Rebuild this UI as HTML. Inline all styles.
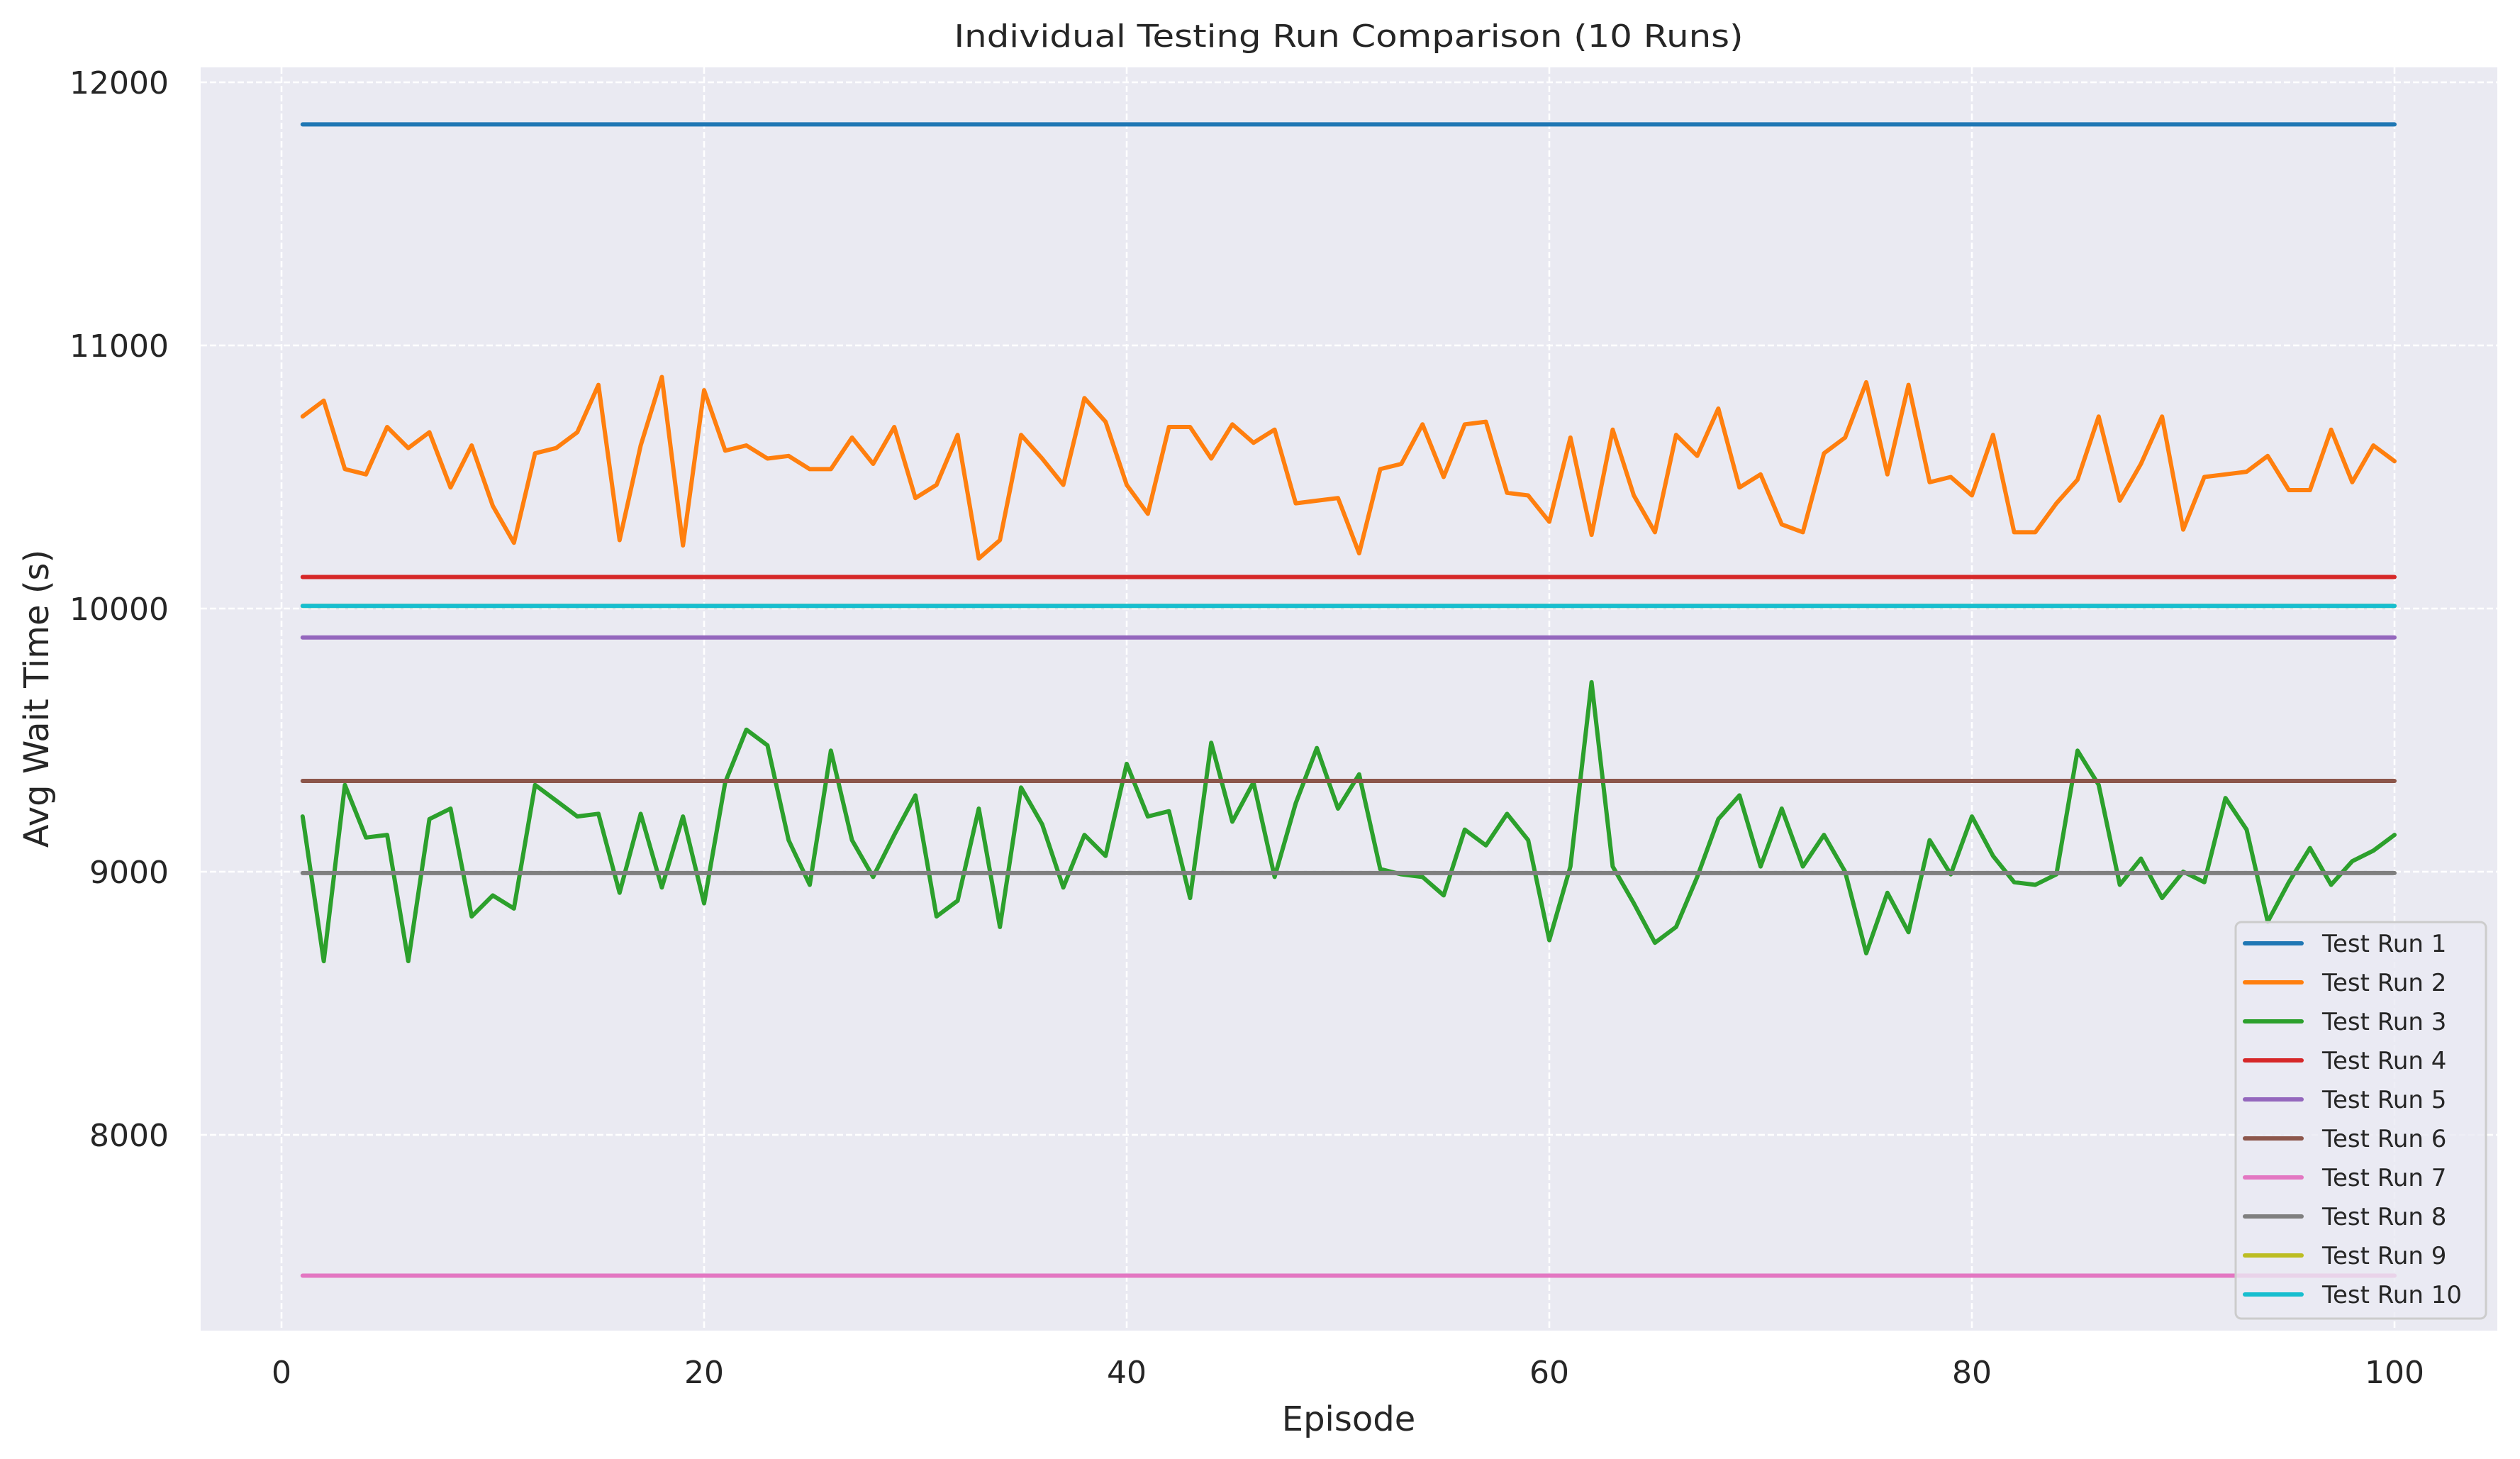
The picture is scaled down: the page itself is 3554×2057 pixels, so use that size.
<!DOCTYPE html>
<html><head><meta charset="utf-8"><style>
html,body{margin:0;padding:0;background:#fff;}
svg{display:block;font-family:"DejaVu Sans","Liberation Sans",sans-serif;}
</style></head><body>
<svg id="chart" width="3554" height="2057" viewBox="0 0 3554 2057" xmlns="http://www.w3.org/2000/svg">
<rect x="0" y="0" width="3554" height="2057" fill="#ffffff"/>
<rect x="283" y="95" width="3239" height="1781" fill="#eaeaf2"/>
<g id="grid"></g>
<g id="series"></g>
<g id="ticks"></g>
<text x="1902" y="66" text-anchor="middle" font-size="44" fill="#262626" textLength="1113" lengthAdjust="spacingAndGlyphs">Individual Testing Run Comparison (10 Runs)</text>
<text x="1902" y="2017" text-anchor="middle" font-size="48" fill="#262626">Episode</text>
<text transform="translate(68,985) rotate(-90)" text-anchor="middle" font-size="48" fill="#262626">Avg Wait Time (s)</text>
<g id="legend"></g>
</svg>
<script>
const episodes = Array.from({length:100},(_,i)=>i+1);
const xTicks = [0,20,40,60,80,100];
const yTicks = [8000,9000,10000,11000,12000];
const seriesNames = ["Test Run 1","Test Run 2","Test Run 3","Test Run 4","Test Run 5","Test Run 6","Test Run 7","Test Run 8","Test Run 9","Test Run 10"];
const seriesColors = ["#1f77b4","#ff7f0e","#2ca02c","#d62728","#9467bd","#8c564b","#e377c2","#7f7f7f","#bcbd22","#17becf"];
const constantValues = [11840,null,null,10120,9890,9345,7465,8995,10010,10010];
const run2 = [10730,10790,10530,10510,10690,10610,10670,10460,10620,10390,10250,10590,10610,10670,10850,10260,10620,10880,10240,10830,10600,10620,10570,10580,10530,10530,10650,10550,10690,10420,10470,10660,10190,10260,10660,10570,10470,10800,10710,10470,10360,10690,10690,10570,10700,10630,10680,10400,10410,10420,10210,10530,10550,10700,10500,10700,10710,10440,10430,10330,10650,10280,10680,10430,10290,10660,10580,10760,10460,10510,10320,10290,10590,10650,10860,10510,10850,10480,10500,10430,10660,10290,10290,10400,10490,10730,10410,10550,10730,10300,10500,10510,10520,10580,10450,10450,10680,10480,10620,10560];
const run3 = [9210,8660,9330,9130,9140,8660,9200,9240,8830,8910,8860,9330,9270,9210,9220,8920,9220,8940,9210,8880,9340,9540,9480,9120,8950,9460,9120,8980,9140,9290,8830,8890,9240,8790,9320,9180,8940,9140,9060,9410,9210,9230,8900,9490,9190,9340,8980,9260,9470,9240,9370,9010,8990,8980,8910,9160,9100,9220,9120,8740,9020,9720,9020,8880,8730,8790,8980,9200,9290,9020,9240,9020,9140,9000,8690,8920,8770,9120,8990,9210,9060,8960,8950,8990,9460,9330,8950,9050,8900,9000,8960,9280,9160,8810,8960,9090,8950,9040,9080,9140];

const NS="http://www.w3.org/2000/svg";
const X0=283,X1=3522,Y0=95,Y1=1876;
function xs(v){return 397+(v-0)*(3377-397)/100;}
function ys(v){return 116+(12000-v)*(1600-116)/4000;}
function mk(tag,attrs,parent){const e=document.createElementNS(NS,tag);for(const k in attrs)e.setAttribute(k,attrs[k]);parent.appendChild(e);return e;}
const grid=document.getElementById('grid'),ticks=document.getElementById('ticks'),ser=document.getElementById('series'),leg=document.getElementById('legend');
xTicks.forEach(t=>{
  const l=mk('line',{x1:xs(t),x2:xs(t),y1:Y0,y2:Y1,stroke:'#ffffff','stroke-width':2.5,'stroke-dasharray':'9,4'},grid);
  
  
  const tx=mk('text',{x:xs(t),y:1950,'text-anchor':'middle','font-size':44,fill:'#262626'},ticks);
  tx.textContent=t;
  
  
});
yTicks.forEach(t=>{
  const l=mk('line',{x1:X0,x2:X1,y1:ys(t),y2:ys(t),stroke:'#ffffff','stroke-width':2.5,'stroke-dasharray':'9,4'},grid);
  
  
  const tx=mk('text',{x:238,y:ys(t)+16,'text-anchor':'end','font-size':44,fill:'#262626'},ticks);
  tx.textContent=t;
  
  
});
seriesNames.forEach((name,i)=>{
  let vals;
  if(i===1)vals=run2;else if(i===2)vals=run3;else vals=episodes.map(()=>constantValues[i]);
  const pts=episodes.map((e,j)=>xs(e).toFixed(1)+','+ys(vals[j]).toFixed(1)).join(' ');
  const p=mk('polyline',{points:pts,fill:'none',stroke:seriesColors[i],'stroke-width':6,'stroke-linejoin':'round','stroke-linecap':'round'},ser);
  
  
});
const lb=mk('rect',{x:3153,y:1300,width:353,height:559,rx:8,fill:'#eaeaf2','fill-opacity':0.8,stroke:'#cccccc','stroke-width':3},leg);


seriesNames.forEach((name,i)=>{
  const y=1330+i*55;
  const l=mk('line',{x1:3166,x2:3246,y1:y,y2:y,stroke:seriesColors[i],'stroke-width':6,'stroke-linecap':'round'},leg);
  
  
  const t=mk('text',{x:3275,y:y+12,'font-size':34,fill:'#262626'},leg);
  t.textContent=name;
  
  
});
</script>
</body></html>
